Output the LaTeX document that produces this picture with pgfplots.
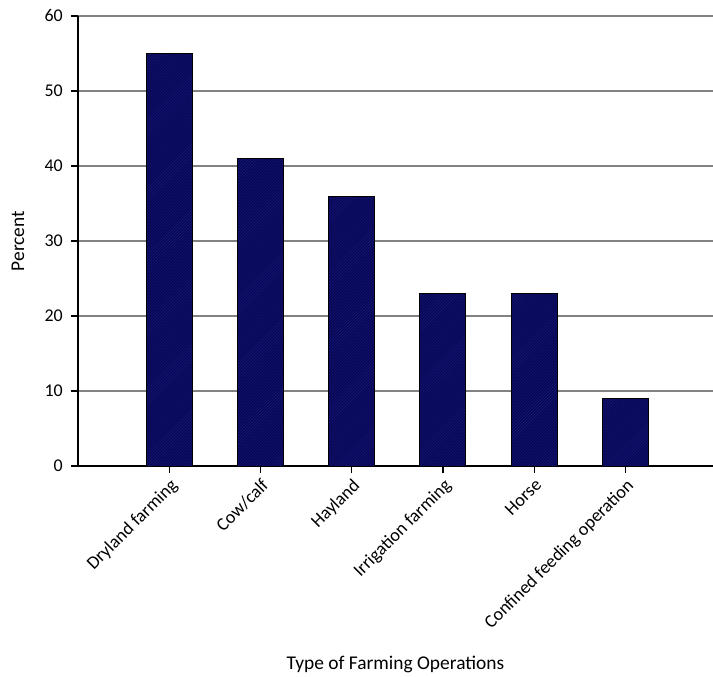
\documentclass[border=0pt]{standalone}
\usepackage{pgfplots}
\pgfplotsset{compat=1.18}
\usetikzlibrary{patterns}
\usepackage{fontspec}
\setmainfont{Carlito}

\definecolor{barnavy}{RGB}{6,6,84}
\definecolor{hatchblue}{RGB}{28,28,125}
\definecolor{gridgray}{RGB}{130,130,130}

\begin{document}
\begin{tikzpicture}
% page frame: the plot area starts 78bp from the left edge, 211bp above the bottom, 16bp below the top
\useasboundingbox (-78bp,-211bp) rectangle (635bp,466bp);
\begin{axis}[
  at={(0,0)}, anchor=south west,
  scale only axis,
  width=635bp, height=450bp,
  xmin=-1, xmax=5.96,
  ymin=0, ymax=60,
  ytick={0,10,...,60},
  xtick={0,1,2,3,4,5},
  xticklabels={Dryland farming,Cow/calf,Hayland,Irrigation farming,Horse,Confined feeding operation},
  axis x line=bottom, axis y line=left,
  axis line style={-, black, line width=1.3bp},
  tick align=outside,
  major tick length=7bp,
  tick style={black, line width=1.3bp},
  ymajorgrids,
  grid style={gridgray, line width=1.3bp},
  font=\fontsize{18}{22}\selectfont,
  /pgf/number format/assume math mode=true,
  yticklabel style={font=\fontsize{18}{22}\selectfont, inner sep=1bp, xshift=-7bp},
  xticklabel style={font=\fontsize{18.3}{22}\selectfont, rotate=45, anchor=north east, inner sep=3bp},
  ylabel={Percent},
  ylabel style={at={(axis description cs:0,0.5)}, anchor=center, yshift=60bp, font=\fontsize{19.5}{23}\selectfont},
  xlabel={Type of Farming Operations},
  xlabel style={at={(axis description cs:0.5,0)}, anchor=center, yshift=-198bp, font=\fontsize{19.5}{23}\selectfont},
  clip=false,
]
\addplot[ybar, bar width=46bp, draw=black, line width=1bp, fill=barnavy,
  postaction={pattern=north east lines, pattern color=hatchblue}]
  coordinates {(0,55) (1,41) (2,36) (3,23) (4,23) (5,9)};
\end{axis}
\end{tikzpicture}
\end{document}
